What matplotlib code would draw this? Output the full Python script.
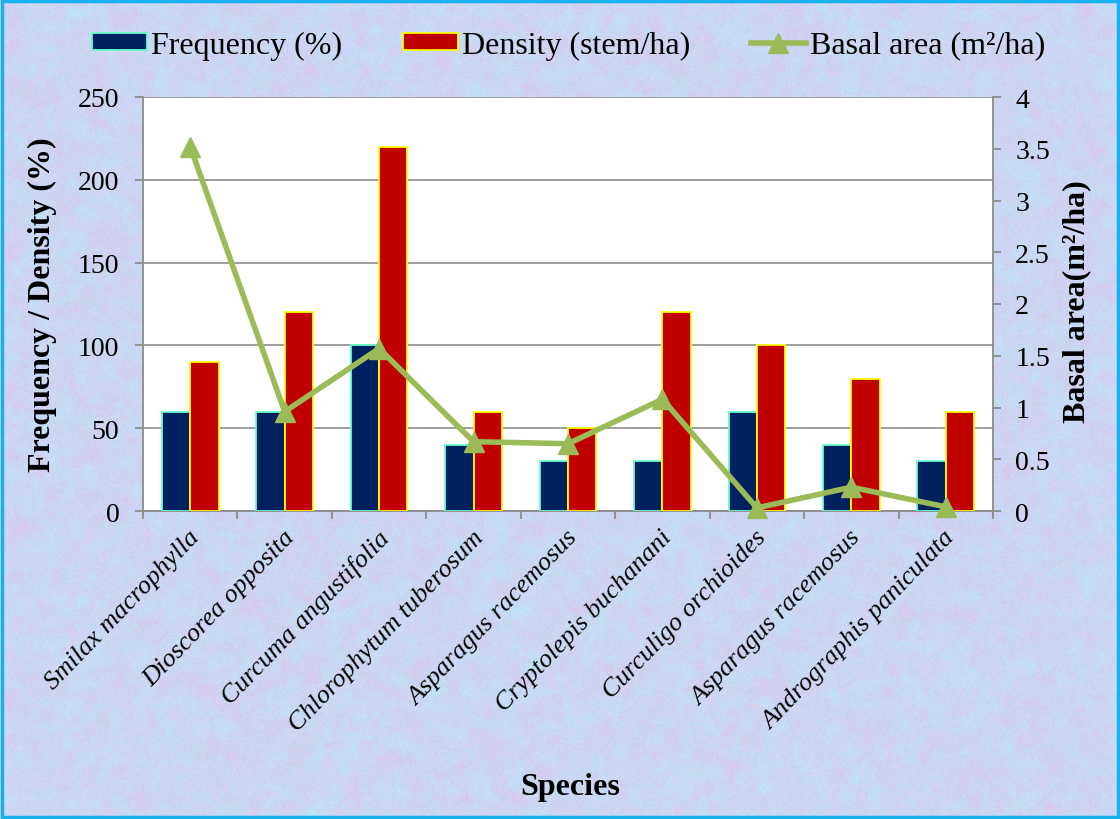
import numpy as np
import matplotlib
matplotlib.use("Agg")
import matplotlib.pyplot as plt
from matplotlib.patches import Rectangle, Patch
from matplotlib.lines import Line2D

species = ["Smilax macrophylla", "Dioscorea opposita", "Curcuma angustifolia",
           "Chlorophytum tuberosum", "Asparagus racemosus", "Cryptolepis buchanani",
           "Curculigo orchioides", "Asparagus racemosus", "Andrographis paniculata"]
frequency = [60, 60, 100, 40, 30, 30, 60, 40, 30]
density = [90, 120, 220, 60, 50, 120, 100, 80, 60]
basal_area = [3.52, 0.96, 1.57, 0.67, 0.65, 1.08, 0.03, 0.23, 0.04]

plt.rcParams["font.family"] = ["Liberation Serif", "DejaVu Serif"]

W, H = 1120, 820
fig = plt.figure(figsize=(W / 100, H / 100), dpi=100)

# soft pastel mottled backdrop
rng = np.random.default_rng(11)
def smooth_noise(shape, k):
    n = rng.random(shape)
    f = np.fft.rfft2(n)
    ky = np.fft.fftfreq(shape[0])[:, None]
    kx = np.fft.rfftfreq(shape[1])[None, :]
    f *= np.exp(-(kx ** 2 + ky ** 2) * (k ** 2))
    out = np.fft.irfft2(f, s=shape)
    return (out - out.mean()) / (out.std() + 1e-9)

shape = (H, W)
pink = smooth_noise(shape, 20) * 0.6 + smooth_noise(shape, 5) * 0.4
cyan = smooth_noise(shape, 20) * 0.6 + smooth_noise(shape, 5) * 0.4
grain = smooth_noise(shape, 1.5)
img = np.empty(shape + (3,))
img[..., 0] = 0.80 + 0.016 * pink - 0.014 * cyan + 0.008 * grain
img[..., 1] = 0.84 - 0.012 * pink + 0.016 * cyan + 0.008 * grain
img[..., 2] = 0.955 + 0.008 * cyan + 0.006 * grain
img = np.clip(img, 0, 1)
bg = fig.add_axes([0, 0, 1, 1], zorder=-10)
bg.imshow(img, aspect="auto", interpolation="bilinear", extent=[0, 1, 0, 1])
bg.set_axis_off()

fig.patches.append(Rectangle((0.002, 0.002), 0.996, 0.996, transform=fig.transFigure,
                             fill=False, edgecolor="#1ab0ee", linewidth=2.5))

left, right, top, bottom = 143, 993, 98, 512
ax = fig.add_axes([left / W, 1 - bottom / H, (right - left) / W, (bottom - top) / H])
ax.set_facecolor("white")

x = np.arange(len(species))
bw = 0.3
ax.bar(x - bw / 2, frequency, bw, color="#002060", edgecolor="#66ffcc", linewidth=1.3, zorder=3)
ax.bar(x + bw / 2, density, bw, color="#c00000", edgecolor="#ffff00", linewidth=1.3, zorder=3)

ax.set_xlim(-0.5, len(species) - 0.5)
ax.set_ylim(0, 250)
ax.set_yticks(np.arange(0, 251, 50))
ax.yaxis.grid(True, color="#969696", linewidth=1.3, zorder=0)
ax.set_axisbelow(True)
ax.set_xticks(np.arange(-0.5, len(species), 1.0))
ax.set_xticklabels([])
ax.tick_params(axis="x", length=6, width=1.3, color="#8c8c8c", direction="out")
ax.tick_params(axis="y", length=6, width=1.3, color="#8c8c8c", direction="out",
               labelsize=20, pad=11)
for s in ["left", "bottom"]:
    ax.spines[s].set_color("#8c8c8c")
    ax.spines[s].set_linewidth(1.3)
ax.spines["top"].set_visible(False)
ax.spines["right"].set_visible(False)

for xi, name in zip(x, species):
    ax.text(xi - 0.02, -9, name, rotation=46, ha="right", va="top",
            rotation_mode="anchor", fontsize=19, style="italic",
            transform=ax.transData, clip_on=False)

ax2 = ax.twinx()
ax2.plot(x, basal_area, color="#9bbb59", linewidth=4, marker="^", markersize=15,
         zorder=5, clip_on=False)
ax2.set_ylim(0, 4)
ax2.set_yticks(np.arange(0, 4.01, 0.5))
ax2.set_yticklabels(["0", "0.5", "1", "1.5", "2", "2.5", "3", "3.5", "4"])
ax2.tick_params(axis="y", length=6, width=1.3, color="#8c8c8c", direction="out",
                labelsize=20, pad=10)
ax2.spines["right"].set_color("#8c8c8c")
ax2.spines["right"].set_linewidth(1.3)
for s in ["top", "left", "bottom"]:
    ax2.spines[s].set_visible(False)

fig.text(42 / W, 1 - 305 / H, "Frequency / Density (%)", rotation=90, ha="center",
         va="center", fontsize=23, fontweight="bold")
fig.text(1077 / W, 1 - 302 / H, "Basal area(m²/ha)", rotation=90, ha="center",
         va="center", fontsize=23, fontweight="bold")
fig.text(570 / W, 1 - 788 / H, "Species", ha="center", va="center",
         fontsize=23, fontweight="bold")

handles = [
    Patch(facecolor="#002060", edgecolor="#66ffcc", linewidth=1.3),
    Patch(facecolor="#c00000", edgecolor="#ffff00", linewidth=1.3),
    Line2D([], [], color="#9bbb59", linewidth=4, marker="^", markersize=15),
]
labels = ["Frequency (%)", "Density (stem/ha)", "Basal area (m²/ha)"]
fig.legend(handles, labels, loc="center", bbox_to_anchor=(569 / W, 1 - 46 / H),
           ncol=3, frameon=False, fontsize=23, handlelength=1.7, handleheight=0.45,
           handletextpad=0.15, columnspacing=1.9)

fig.savefig("out.png", dpi=100)
